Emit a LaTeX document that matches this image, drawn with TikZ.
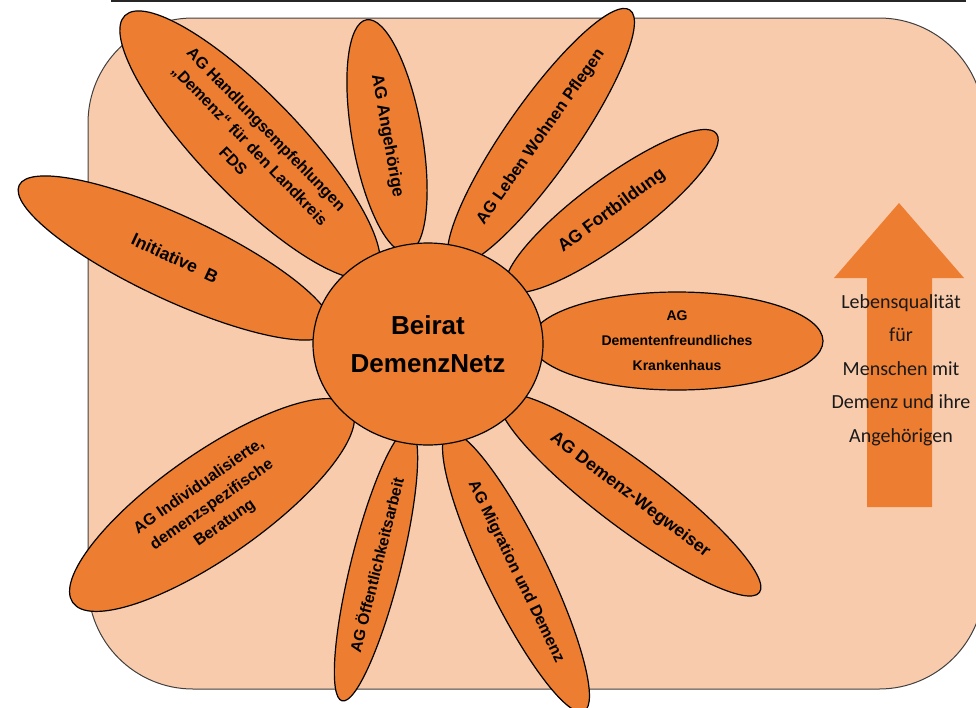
\documentclass[tikz,border=0pt]{standalone}
\usepackage{fontspec}
\setmainfont{Liberation Sans}
\newfontfamily\calib{Carlito}
\usetikzlibrary{shapes.geometric}
\definecolor{bgpeach}{HTML}{F8CBAD}
\definecolor{petalor}{HTML}{ED7D31}
\definecolor{frame}{HTML}{404040}
\tikzset{
  petal/.style={ellipse, draw=black, fill=petalor, line width=1.2pt, inner sep=0pt, align=center},
  fs/.style 2 args={font=\bfseries\fontsize{#1}{#2}\selectfont},
}
\begin{document}
\begin{tikzpicture}[x=1pt,y=-1pt]
\useasboundingbox (0,0) rectangle (976,707);
\clip (0,0) rectangle (976,707);
% top rule
\coordinate (tl1) at (111,1);
\coordinate (tl2) at (966,1);
\draw[line width=2pt, black!85] (tl1) -- (tl2);
% background
\draw[fill=bgpeach, draw=frame, line width=1pt, rounded corners=105pt] (88,18) rectangle (984,689);
% petals
\node[petal, fs={16}{23}, minimum width=360pt, minimum height=100pt, rotate=-46] (hand) at (250,145)
  {AG Handlungsempfehlungen\\„Demenz“ für den Landkreis\\FDS};
\node[petal, fs={17.5}{22}, minimum width=344pt, minimum height=84pt, rotate=-25] (init) at (175,258)
  {Initiative\ \ B};
\node[petal, fs={17}{22}, minimum width=236pt, minimum height=70pt, rotate=-80] (ange) at (387,136)
  {AG Angehörige};
\node[petal, fs={16.4}{22}, minimum width=310pt, minimum height=70pt, rotate=55] (leben) at (541,137)
  {AG Leben Wohnen Pflegen};
\node[petal, fs={17.5}{22}, minimum width=260pt, minimum height=64pt, rotate=36.5] (fort) at (612,211)
  {AG Fortbildung};
\node[petal, fs={14}{25}, minimum width=292pt, minimum height=98pt] (kh) at (677,341)
  {AG\\Dementenfreundliches\\Krankenhaus};
\node[petal, fs={17.5}{22}, minimum width=324pt, minimum height=66pt, rotate=-37] (weg) at (630,495)
  {AG Demenz-Wegweiser};
\node[petal, fs={16}{22}, minimum width=310pt, minimum height=62pt, rotate=-64] (mig) at (516,572)
  {AG Migration und Demenz};
\node[petal, fs={15.7}{22}, minimum width=280pt, minimum height=50pt, rotate=76] (oeff) at (376,565)
  {AG Öffentlichkeitsarbeit};
\node[petal, fs={16}{22.5}, minimum width=340pt, minimum height=104pt, rotate=35] (ind) at (212,505)
  {AG Individualisierte,\\demenzspezifische\\Beratung};
% centre
\node[petal, fs={26}{38}, minimum width=230pt, minimum height=202pt] (beirat) at (428,344)
  {Beirat\\DemenzNetz};
% arrow
\fill[petalor] (867,507) -- (867,278) -- (834,278) -- (899,203) -- (964,278) -- (932,278) -- (932,507) -- cycle;
\node[font=\calib\fontsize{20}{33.5}\selectfont, align=center, text=black!90, inner sep=0pt] (lq) at (901,370)
  {Lebensqualität\\für\\Menschen mit\\Demenz und ihre\\Angehörigen};
\end{tikzpicture}
\end{document}
